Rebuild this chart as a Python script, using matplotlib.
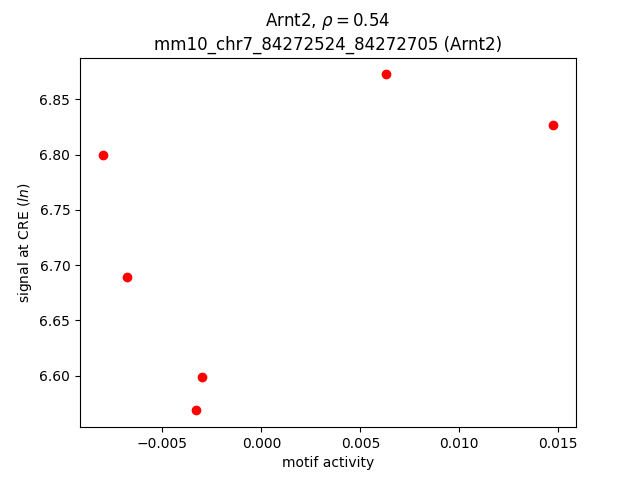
import matplotlib
matplotlib.use("Agg")
import matplotlib.pyplot as plt

motif_activity = [-0.00803, -0.00681, -0.00301, -0.00332, 0.00631, 0.01476]
signal = [6.7995, 6.6895, 6.599, 6.5685, 6.8725, 6.8265]

fig, ax = plt.subplots(figsize=(6.4, 4.8), dpi=100)
ax.plot(motif_activity, signal, 'o', color='red', linestyle='none')
ax.set_xlabel("motif activity")
ax.set_ylabel("signal at CRE ($ln$)")
ax.set_title("Arnt2, $\\rho=0.54$\nmm10_chr7_84272524_84272705 (Arnt2)")
fig.savefig("out.png")
